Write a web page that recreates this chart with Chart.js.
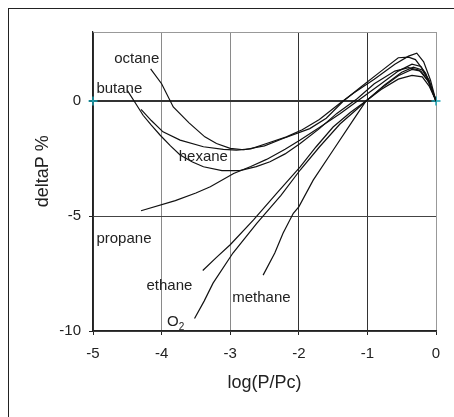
<!DOCTYPE html>
<html>
<head>
<meta charset="utf-8">
<script src="https://cdn.jsdelivr.net/npm/chart.js@4"></script>
<style>
html,body{margin:0;padding:0;background:#fff;overflow:hidden;width:454px;height:417px;}
#frame{position:absolute;left:8px;top:8px;width:600px;height:600px;border:1px solid #222;box-sizing:border-box;}
#wrap{position:absolute;left:0;top:0;width:454px;height:417px;}
</style>
</head>
<body>
<div id="frame"></div>
<div id="wrap"><canvas id="c" width="454" height="417"></canvas></div>
<script>
// ---- data ----
const xTicks = [-5, -4, -3, -2, -1, 0];
const yTicks = [-10, -5, 0];

const octaneX = [-4.16, -4.0, -3.83, -3.6, -3.37, -3.2, -3.0, -2.8, -2.5, -2.23, -1.84, -1.6, -1.35, -1.1, -0.8, -0.55, -0.4, -0.3, -0.15, 0];
const octaneY = [1.40, 0.75, -0.26, -0.95, -1.56, -1.85, -2.06, -2.12, -1.95, -1.63, -1.2, -0.75, 0, 0.6, 1.3, 1.88, 1.91, 1.8, 1.2, 0];

const butaneX = [-4.50, -4.38, -4.27, -4.15, -4.02, -3.87, -3.73, -3.55, -3.39, -3.12, -2.86, -2.62, -2.42, -2.2, -1.98, -1.7, -1.45, -1.15, -0.9, -0.6, -0.4, -0.25, -0.12, 0];
const butaneY = [0.46, -0.1, -0.62, -1.05, -1.49, -1.95, -2.35, -2.65, -2.86, -3.03, -3.03, -2.85, -2.64, -2.3, -1.85, -1.2, -0.55, 0.1, 0.75, 1.3, 1.45, 1.35, 0.9, 0];

const hexaneX = [-4.30, -4.15, -3.98, -3.73, -3.39, -3.1, -2.91, -2.7, -2.47, -2.18, -1.95, -1.7, -1.4, -1.2, -0.9, -0.6, -0.4, -0.28, -0.18, -0.08, 0];
const hexaneY = [-0.36, -0.85, -1.34, -1.70, -1.99, -2.1, -2.14, -2.08, -1.85, -1.56, -1.25, -0.8, -0.1, 0.35, 0.95, 1.6, 1.95, 2.08, 1.7, 0.9, 0];

const propaneX = [-4.30, -3.80, -3.5, -3.29, -2.95, -2.7, -2.47, -2.2, -1.98, -1.7, -1.4, -1.1, -0.8, -0.55, -0.35, -0.22, -0.1, 0];
const propaneY = [-4.77, -4.33, -4.0, -3.73, -3.15, -2.85, -2.54, -2.1, -1.70, -1.15, -0.55, 0.1, 0.75, 1.3, 1.6, 1.5, 0.9, 0];

const ethaneX = [-3.40, -3.2, -3.00, -2.66, -2.32, -1.98, -1.75, -1.50, -1.25, -1.02, -0.8, -0.55, -0.35, -0.22, -0.1, 0];
const ethaneY = [-7.37, -6.8, -6.25, -5.17, -4.01, -2.86, -2.0, -1.13, -0.5, 0, 0.55, 1.1, 1.37, 1.3, 0.8, 0];

const o2X = [-3.52, -3.38, -3.25, -2.96, -2.61, -2.26, -1.98, -1.7, -1.4, -1.15, -1.0, -0.75, -0.5, -0.33, -0.2, -0.1, 0];
const o2Y = [-9.46, -8.7, -7.92, -6.61, -5.31, -4.1, -3.0, -2.0, -1.0, -0.35, 0.05, 0.7, 1.25, 1.47, 1.35, 0.85, 0];

const methaneX = [-2.52, -2.35, -2.23, -2.08, -2.0, -1.79, -1.50, -1.21, -1.02, -0.8, -0.55, -0.35, -0.2, -0.1, 0];
const methaneY = [-7.57, -6.61, -5.75, -4.88, -4.6, -3.44, -2.14, -0.84, 0, 0.5, 0.95, 1.11, 1.05, 0.65, 0];

const markerX = [-5, 0];
const markerY = [0, 0];

const labelNames = ["octane", "butane", "hexane", "propane", "ethane", "O", "methane"];
const labelSubs  = ["", "", "", "", "", "2", ""];
const labelX = [-4.69, -4.95, -3.75, -4.95, -4.22, -3.92, -2.97];
const labelY = [1.85, 0.51, -2.45, -6.0, -8.02, -9.62, -8.54];

const yTitle = "deltaP %";
const xTitle = "log(P/Pc)";

// ---- build ----
function pts(xs, ys) { return xs.map((x, i) => ({x: x, y: ys[i]})); }
function line(name, xs, ys) {
  return {label: name, data: pts(xs, ys), borderColor: '#111', borderWidth: 1.2,
          pointRadius: 0, showLine: true, tension: 0, fill: false};
}

const datasets = [
  line('octane', octaneX, octaneY),
  line('butane', butaneX, butaneY),
  line('hexane', hexaneX, hexaneY),
  line('propane', propaneX, propaneY),
  line('ethane', ethaneX, ethaneY),
  line('O2', o2X, o2Y),
  line('methane', methaneX, methaneY),
  {label: 'ref', data: pts(markerX, markerY), showLine: false, pointStyle: 'cross', clip: false,
   pointRadius: 4.5, pointBorderColor: '#1aa3b3', pointBorderWidth: 1.5, borderColor: '#1aa3b3'}
];

const FONT = "'Liberation Sans', Arial, sans-serif";

const labelPlugin = {
  id: 'curveLabels',
  afterDatasetsDraw(chart) {
    const ctx = chart.ctx, xs = chart.scales.x, ys = chart.scales.y;
    ctx.save();
    ctx.fillStyle = '#222';
    ctx.textBaseline = 'middle';
    ctx.textAlign = 'left';
    labelNames.forEach((t, i) => {
      const px = xs.getPixelForValue(labelX[i]);
      const py = ys.getPixelForValue(labelY[i]);
      ctx.font = '15px ' + FONT;
      ctx.fillText(t, px, py);
      if (labelSubs[i]) {
        const w = ctx.measureText(t).width;
        ctx.font = '10px ' + FONT;
        ctx.fillText(labelSubs[i], px + w, py + 5);
      }
    });
    // y-axis title (placed slightly above the axis centre, as in the reference)
    ctx.font = '18px ' + FONT;
    ctx.textAlign = 'center';
    ctx.translate(43, ys.getPixelForValue(-3.05));
    ctx.rotate(-Math.PI / 2);
    ctx.fillText(yTitle, 0, 0);
    ctx.restore();
  }
};

new Chart(document.getElementById('c'), {
  type: 'scatter',
  data: {datasets},
  plugins: [labelPlugin],
  options: {
    responsive: false,
    animation: false,
    events: [],
    layout: {padding: {left: 0, top: 32, right: 18, bottom: 0}},
    plugins: {legend: {display: false}, tooltip: {enabled: false}},
    scales: {
      x: {
        type: 'linear', min: -5, max: 0,
        afterBuildTicks: s => { s.ticks = xTicks.map(v => ({value: v})); },
        afterFit: s => { s.height = 86; },
        ticks: {color: '#222', font: {family: FONT, size: 15}, padding: 10,
                callback: v => String(v)},
        grid: {
          color: c => {
            const v = c.tick ? c.tick.value : null;
            if (v === -4 || v === -3) return '#8a8a8a';
            if (v === 0) return '#999';
            return '#333';
          },
          lineWidth: 1, tickLength: 4, tickColor: '#222'
        },
        border: {color: '#222', width: 1.2},
        title: {display: true, text: xTitle, color: '#222',
                font: {family: FONT, size: 18}, padding: {top: 0, bottom: 23.5}}
      },
      y: {
        type: 'linear', min: -10, max: 3,
        afterBuildTicks: s => { s.ticks = yTicks.concat([3]).map(v => ({value: v})); },
        afterFit: s => { s.width = 93; },
        ticks: {color: '#222', font: {family: FONT, size: 15}, padding: 8,
                callback: v => (yTicks.includes(v) ? String(v) : '')},
        grid: {
          color: c => {
            const v = c.tick ? c.tick.value : null;
            if (v === 0) return '#333';
            if (v === 3) return '#999';
            return '#444';
          },
          lineWidth: c => (c.tick && c.tick.value === 0 ? 2 : 1),
          tickLength: 4,
          tickColor: c => (c.tick && c.tick.value === 3 ? 'rgba(0,0,0,0)' : '#222')
        },
        border: {color: '#222', width: 1.2},
        title: {display: false}
      }
    }
  }
});
</script>
</body>
</html>
